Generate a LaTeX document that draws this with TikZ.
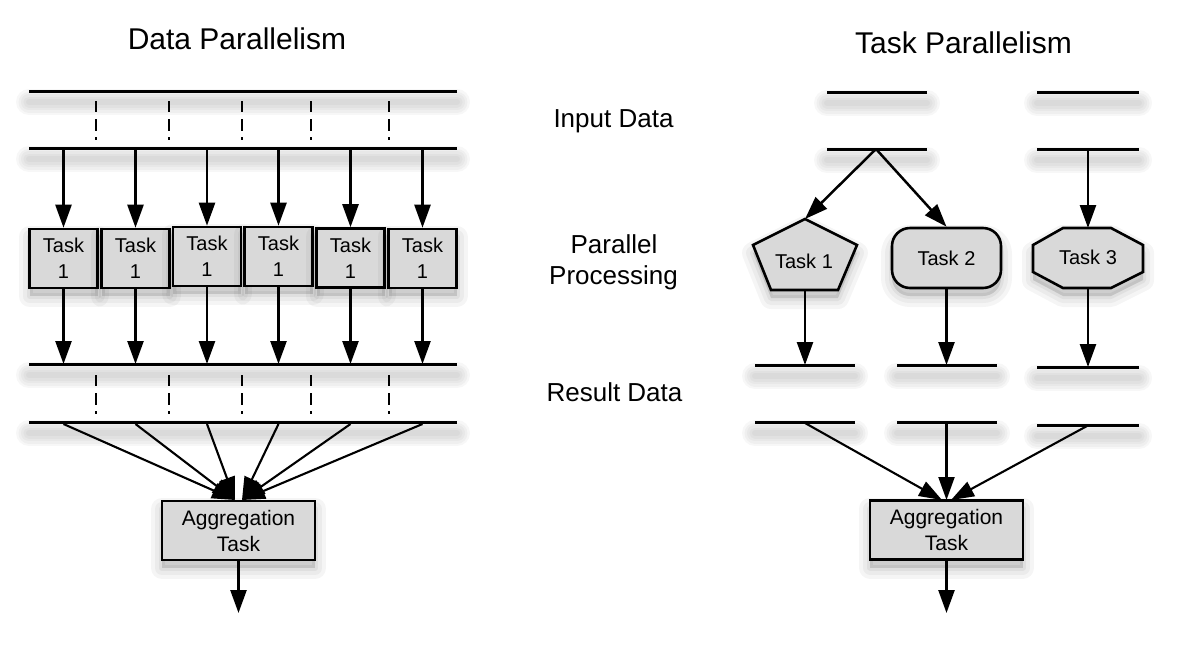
\documentclass[tikz,border=0pt]{standalone}
\usepackage{fontspec}
\setmainfont{Liberation Sans}
\usetikzlibrary{arrows.meta}
\begin{document}
\begin{tikzpicture}[x=1pt,y=-1pt,
  bar/.style={line width=3pt,
    preaction={draw=black,opacity=0.03,line width=26pt,line cap=round,transform canvas={yshift=-11pt}},
    preaction={draw=black,opacity=0.03,line width=21pt,line cap=round,transform canvas={yshift=-11pt}},
    preaction={draw=black,opacity=0.03,line width=16pt,line cap=round,transform canvas={yshift=-11pt}},
    preaction={draw=black,opacity=0.03,line width=11pt,line cap=round,transform canvas={yshift=-11pt}},
    preaction={draw=black,opacity=0.03,line width=6pt,line cap=round,transform canvas={yshift=-11pt}}},
  sep/.style={line width=2.2pt,dash pattern=on 11pt off 7pt on 12pt off 6pt on 3pt off 100pt},
  conn/.style={line width=2.5pt,-{Triangle[length=23pt,width=16pt]}},
  fanconn/.style={line width=2.1pt,-{Triangle[length=23pt,width=16pt]}},
  shad/.style={
    preaction={draw=black,fill=black,opacity=0.04,line width=22pt,line join=round,transform canvas={yshift=-8pt}},
    preaction={draw=black,fill=black,opacity=0.04,line width=14pt,line join=round,transform canvas={yshift=-8pt}},
    preaction={draw=black,fill=black,opacity=0.05,line width=6pt,line join=round,transform canvas={yshift=-8pt}}},
  shapefill/.style={shad,draw,line width=2.6pt,fill=black!15},
  taskbox/.style={shapefill,minimum width=68pt,minimum height=59pt,inner sep=0pt,align=center,font=\fontsize{20}{26}\selectfont},
  aggbox/.style={shapefill,minimum width=153pt,minimum height=59pt,inner sep=0pt,align=center,font=\fontsize{21}{26}\selectfont},
  tasklabel/.style={inner sep=0pt,font=\fontsize{20}{24}\selectfont},
  title/.style={anchor=base,inner sep=0pt,font=\fontsize{30}{36}\selectfont},
  midlabel/.style={anchor=base,inner sep=0pt,font=\fontsize{26}{31}\selectfont}
]
\useasboundingbox (0,0) rectangle (1187,665);

% titles and middle labels
\node[title] (titleL) at (237,49) {Data Parallelism};
\node[title] (titleR) at (963.5,53) {Task Parallelism};
\node[midlabel] (lin) at (613.5,127) {Input Data};
\node[midlabel] (lpar) at (614,253) {Parallel};
\node[midlabel] (lproc) at (613.5,284) {Processing};
\node[midlabel] (lres) at (614.5,401) {Result Data};

% ===== Data parallelism =====
\draw[bar] (29,91) -- (457,91);
\draw[bar] (29,148) -- (457,148);
\draw[bar] (29,364) -- (457,364);
\draw[bar] (29,422) -- (457,422);
\foreach \x in {96,169,242,311,389} {
  \draw[sep] (\x,101) -- (\x,140);
  \draw[sep] (\x,375) -- (\x,414);
}
\foreach \i/\x/\y in {1/63.5/258.5,2/135.5/258.5,3/207/256.5,4/278.5/256.5,5/350.5/258,6/422.5/258.5} {
  \node[taskbox] (dt\i) at (\x,\y) {Task\\1};
  \coordinate (din\i) at (\x,148);
  \coordinate (dres\i) at (\x,364);
  \coordinate (dfan\i) at (\x,424);
}
\foreach \i in {1,...,6} {
  \draw[conn] (din\i) -- (dt\i);
  \draw[conn] (dt\i) -- (dres\i);
}
\node[aggbox] (aggL) at (238.5,530.5) {Aggregation\\Task};
\coordinate (aggLl) at (235,500);
\coordinate (aggLr) at (242,500);
\foreach \i in {1,2,3} \draw[fanconn] (dfan\i) -- (aggLl);
\foreach \i in {4,5,6} \draw[fanconn] (dfan\i) -- (aggLr);
\coordinate (outL) at (238.5,613);
\draw[conn] (aggL) -- (outL);

% ===== Task parallelism =====
\draw[bar] (827,92) -- (927,92);
\draw[bar] (1037,92) -- (1139,92);
\draw[bar] (827,149) -- (927,149);
\draw[bar] (1037,149) -- (1139,149);
\draw[bar] (755,365) -- (855,365);
\draw[bar] (897,365) -- (997,365);
\draw[bar] (1037,367) -- (1139,367);
\draw[bar] (755,422) -- (855,422);
\draw[bar] (897,422) -- (997,422);
\draw[bar] (1037,425) -- (1139,425);

% Task 1 pentagon
\filldraw[shapefill,line join=miter] (805,219) -- (857,245) -- (838,290) -- (771,290) -- (753,245) -- cycle;
\node[tasklabel] (tt1) at (804,261) {Task 1};
\coordinate (tt1top) at (805,219);
\coordinate (tt1bot) at (805,290);
% Task 2 rounded
\node[shapefill,rounded corners=18pt,minimum width=109pt,minimum height=60pt,inner sep=0pt,font=\fontsize{20}{24}\selectfont] (tt2) at (946.5,258) {Task 2};
% Task 3 octagon
\filldraw[shapefill] (1063,228) -- (1111,228) -- (1143,245) -- (1143,272) -- (1111,288) -- (1063,288) -- (1033,272) -- (1033,245) -- cycle;
\node[tasklabel] (tt3) at (1088,257) {Task 3};
\coordinate (tt3top) at (1088,228);
\coordinate (tt3bot) at (1088,288);

\coordinate (split) at (876,149);
\coordinate (in3) at (1088,149);
\draw[conn] (split) -- (tt1top);
\draw[conn] (split) -- (tt2.north);
\draw[conn] (in3) -- (tt3top);

\coordinate (r1) at (805,365);
\coordinate (r2) at (946.5,365);
\coordinate (r3) at (1088,367);
\draw[conn] (tt1bot) -- (r1);
\draw[conn] (tt2) -- (r2);
\draw[conn] (tt3bot) -- (r3);

\node[aggbox] (aggR) at (946.5,530) {Aggregation\\Task};
\coordinate (f1) at (805,423);
\coordinate (f2) at (946.5,423);
\coordinate (f3) at (1087,426);
\coordinate (aggRl) at (942,500);
\coordinate (aggRm) at (946.5,500);
\coordinate (aggRr) at (951,500);
\draw[fanconn] (f1) -- (aggRl);
\draw[fanconn] (f2) -- (aggRm);
\draw[fanconn] (f3) -- (aggRr);
\coordinate (outR) at (946.5,613);
\draw[conn] (aggR) -- (outR);
\end{tikzpicture}
\end{document}
